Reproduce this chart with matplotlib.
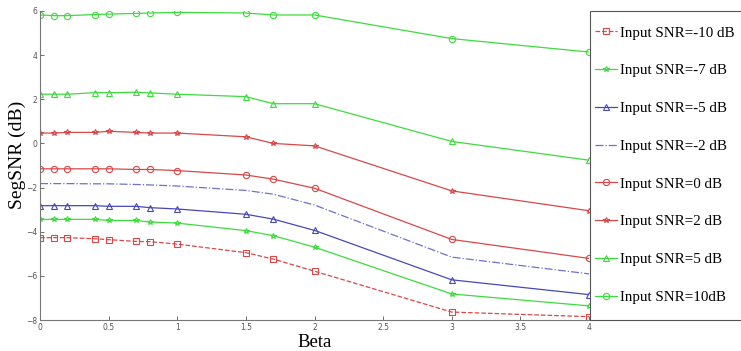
import matplotlib.pyplot as plt
from matplotlib.patches import Rectangle

beta = [0, 0.1, 0.2, 0.4, 0.5, 0.7, 0.8, 1.0, 1.5, 1.7, 2.0, 3.0, 4.0]

snr_m10 = [-4.27, -4.27, -4.27, -4.32, -4.36, -4.44, -4.45, -4.56, -4.95, -5.24, -5.79, -7.64, -7.85]
snr_m7 = [-3.44, -3.44, -3.44, -3.44, -3.49, -3.49, -3.56, -3.61, -3.95, -4.18, -4.70, -6.82, -7.36]
snr_m5 = [-2.82, -2.82, -2.82, -2.82, -2.85, -2.85, -2.91, -2.97, -3.21, -3.43, -3.94, -6.18, -6.85]
snr_m2 = [-1.82, -1.82, -1.82, -1.83, -1.83, -1.86, -1.88, -1.93, -2.13, -2.30, -2.79, -5.15, -5.91]
snr_0 = [-1.15, -1.15, -1.15, -1.15, -1.15, -1.18, -1.18, -1.23, -1.43, -1.62, -2.03, -4.35, -5.21]
snr_2 = [0.47, 0.47, 0.50, 0.50, 0.55, 0.50, 0.47, 0.47, 0.30, 0.00, -0.11, -2.15, -3.05]
snr_5 = [2.23, 2.23, 2.23, 2.30, 2.30, 2.32, 2.29, 2.23, 2.12, 1.80, 1.80, 0.09, -0.76]
snr_10 = [5.82, 5.79, 5.79, 5.84, 5.86, 5.89, 5.91, 5.94, 5.91, 5.82, 5.82, 4.75, 4.14]

labels = ["Input SNR=-10 dB", "Input SNR=-7 dB", "Input SNR=-5 dB", "Input SNR=-2 dB",
          "Input SNR=0 dB", "Input SNR=2 dB", "Input SNR=5 dB", "Input SNR=10dB"]

red = "#d84848"
green = "#3ddc3d"
blue = "#4848b8"
lblue = "#7070d0"

styles = [
    (snr_m10, red, "--", "s", 4.0),
    (snr_m7, green, "-", "*", 4.0),
    (snr_m5, blue, "-", "^", 4.5),
    (snr_m2, lblue, "-.", None, 4.0),
    (snr_0, red, "-", "o", 4.5),
    (snr_2, red, "-", "*", 4.0),
    (snr_5, green, "-", "^", 4.5),
    (snr_10, green, "-", "o", 4.5),
]

fig = plt.figure(figsize=(7.41, 3.51), dpi=100)
ax = fig.add_axes([40 / 741, 31 / 351, 549 / 741, 309 / 351])

handles = []
for (vals, c, ls, mk, ms), lab in zip(styles, labels):
    line, = ax.plot(beta, vals, color=c, linestyle=ls, linewidth=0.9,
                    marker=mk, markersize=ms, markerfacecolor="none",
                    markeredgecolor=c, markeredgewidth=0.8, label=lab)
    handles.append(line)

ax.set_xlim(0, 4)
ax.set_ylim(-8, 6)
ax.set_xticks([0, 0.5, 1, 1.5, 2, 2.5, 3, 3.5, 4])
ax.set_xticklabels(["0", "0.5", "1", "1.5", "2", "2.5", "3", "3.5", "4"])
ax.set_yticks([-8, -6, -4, -2, 0, 2, 4, 6])
ax.tick_params(direction="in", length=3, width=0.6, labelsize=5.5,
               colors="#555555", pad=2)
for s in ["top", "right"]:
    ax.spines[s].set_visible(False)
for s in ["left", "bottom"]:
    ax.spines[s].set_color("#777777")
    ax.spines[s].set_linewidth(0.8)

ax.set_xlabel("Beta", family="Liberation Serif", fontsize=13.5, va="top")
ax.xaxis.set_label_coords(0.5, -0.045)
ax.set_ylabel("SegSNR (dB)", family="Liberation Serif", fontsize=14)
ax.yaxis.set_label_coords(-0.026, 0.534)

# legend box runs past the right edge, as in the original
fig.add_artist(Rectangle((590 / 741, 31 / 351), 160 / 741, 309 / 351,
                         transform=fig.transFigure, fill=False,
                         edgecolor="#555555", linewidth=0.8, clip_on=False))
fig.legend(handles=handles, loc="upper left",
           bbox_to_anchor=(595 / 741, 1 - 26 / 351),
           prop={"family": "Liberation Serif", "size": 10.8},
           frameon=False, borderpad=0, labelspacing=1.62,
           handlelength=1.45, handletextpad=0.2, borderaxespad=0)

fig.savefig("out.png", dpi=100)
